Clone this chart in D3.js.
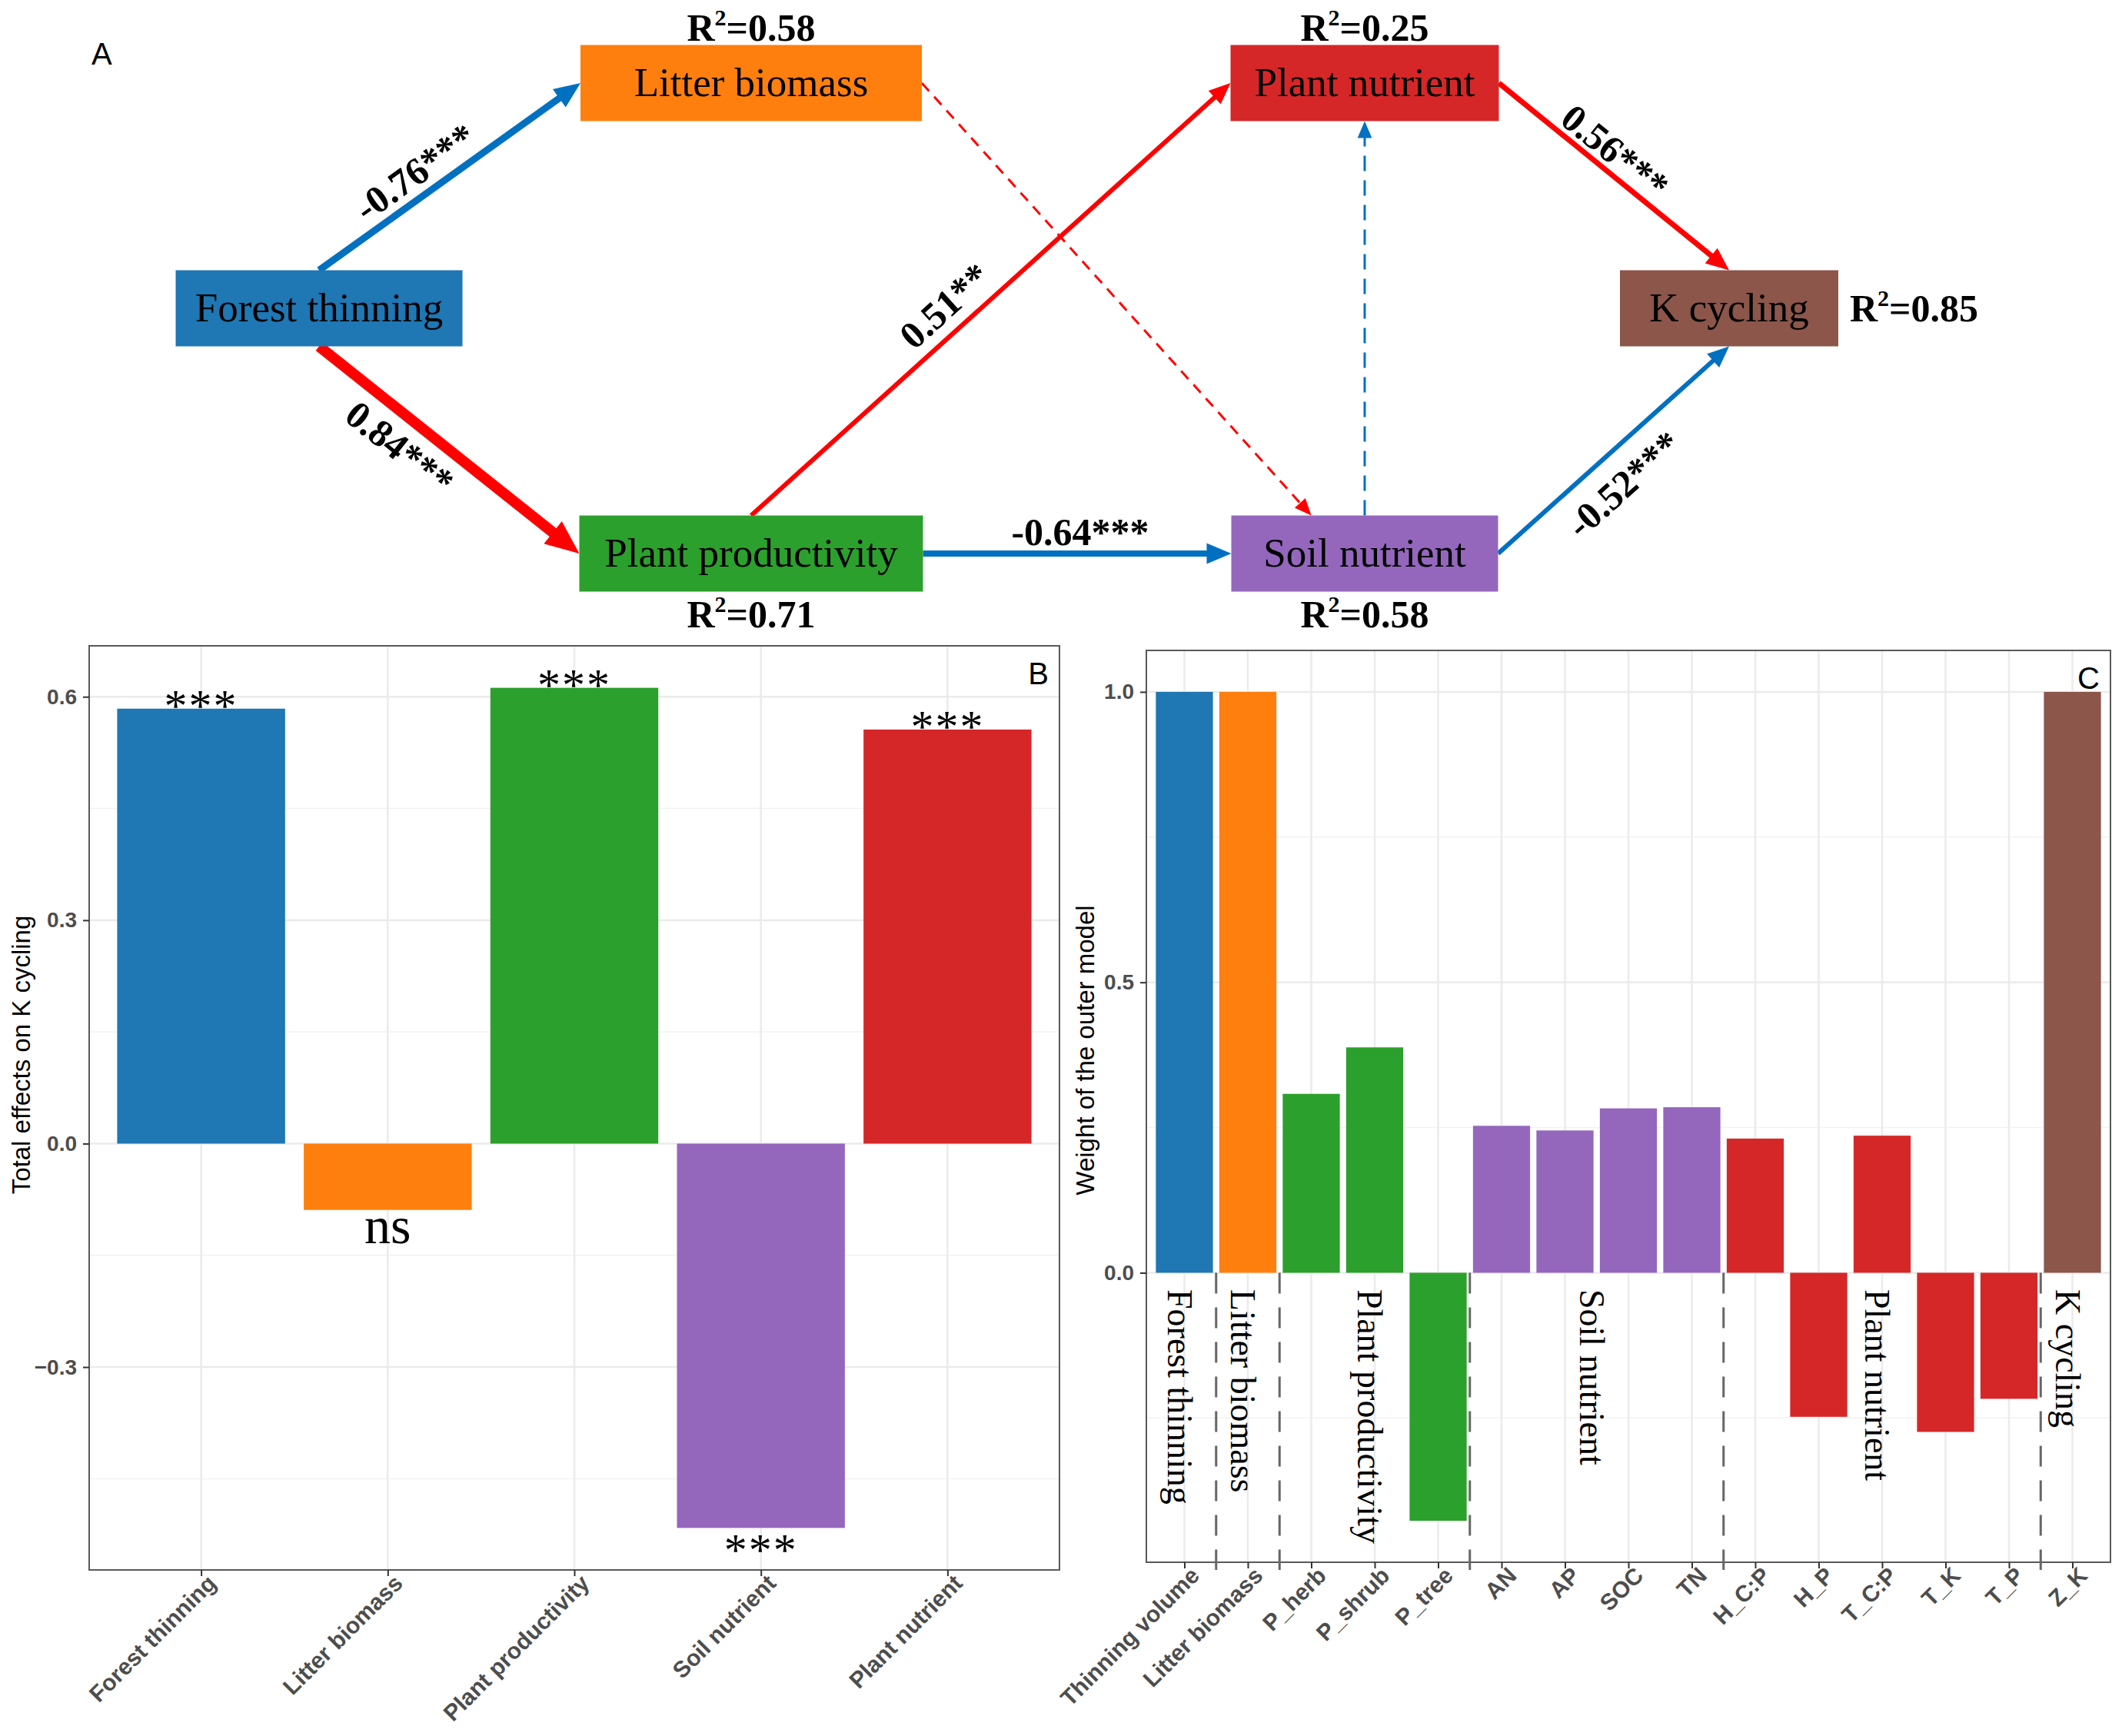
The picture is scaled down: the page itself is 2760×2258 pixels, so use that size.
<!DOCTYPE html>
<html>
<head>
<meta charset="utf-8">
<script src="https://cdn.jsdelivr.net/npm/d3@7"></script>
<style>
  body { margin: 0; background: #fff; }
  text { font-family: "Liberation Sans", Arial, sans-serif; }
  .serif { font-family: "Liberation Serif", "Times New Roman", serif; }
</style>
</head>
<body>
<div id="figure"></div>
<script>
// ---- data (panel A: path model) ----
var nodeNames = ["Forest thinning", "Litter biomass", "Plant productivity", "Plant nutrient", "Soil nutrient", "K cycling"];
var nodeR2 = [null, 0.58, 0.71, 0.25, 0.58, 0.85];
var edgeFrom = [0, 0, 2, 2, 3, 4, 1, 4];
var edgeTo   = [1, 2, 3, 4, 5, 5, 4, 3];
var edgeCoef = [-0.76, 0.84, 0.51, -0.64, 0.56, -0.52, null, null];
var edgeSig  = ["***", "***", "**", "***", "***", "***", "", ""];
var edgeSign = [-1, 1, 1, -1, 1, -1, 1, -1];

// ---- data (panel B: total effects) ----
var effectCats = ["Forest thinning", "Litter biomass", "Plant productivity", "Soil nutrient", "Plant nutrient"];
var effectValues = [0.584, -0.089, 0.612, -0.516, 0.556];
var effectSig = ["***", "ns", "***", "***", "***"];
var effectTicks = [-0.3, 0.0, 0.3, 0.6];

// ---- data (panel C: outer weights) ----
var weightCats = ["Thinning volume", "Litter biomass", "P_herb", "P_shrub", "P_tree", "AN", "AP", "SOC", "TN",
                  "H_C:P", "H_P", "T_C:P", "T_K", "T_P", "Z_K"];
var weightValues = [1.0, 1.0, 0.308, 0.388, -0.427, 0.253, 0.245, 0.283, 0.285, 0.231, -0.248, 0.236, -0.274, -0.217, 1.0];
var weightGroup = ["Forest thinning", "Litter biomass", "Plant productivity", "Plant productivity", "Plant productivity",
                   "Soil nutrient", "Soil nutrient", "Soil nutrient", "Soil nutrient",
                   "Plant nutrient", "Plant nutrient", "Plant nutrient", "Plant nutrient", "Plant nutrient", "K cycling"];
var weightTicks = [0.0, 0.5, 1.0];

// ---- styles ----
var color = d3.scaleOrdinal()
    .domain(["Forest thinning", "Litter biomass", "Plant productivity", "Plant nutrient", "Soil nutrient", "K cycling"])
    .range(["#1f77b4", "#ff7f0e", "#2ca02c", "#d62728", "#9467bd", "#8c564b"]);
var arrowBlue = "#0070c0", arrowRed = "#ff0000";

var svg = d3.select("#figure").append("svg")
    .attr("width", 2760)
    .attr("height", 2258);

// =================== panel A ===================
var nodeCol = [0, 1, 1, 2, 2, 3], nodeRow = [1, 0, 2, 0, 2, 1];
var boxW = [373, 444, 447, 349, 347, 284], boxH = 99;
var colX = d3.scaleOrdinal().domain([0, 1, 2, 3]).range([415, 977, 1775, 2249]);
var rowY = d3.scaleOrdinal().domain([0, 1, 2]).range([108, 401, 720]);

var edgePorts = [["top", "left"], ["bottom", "left"], ["top", "left"], ["right", "left"],
                 ["right", "top"], ["right", "bottom"], ["right", "topLeft"], ["top", "bottom"]];
var edgeWidth = [9, 14, 6, 8, 7, 6, 3, 3];
var edgeDash = [null, null, null, null, null, null, "14,10", "20,12"];
var labelT = [0.42, 0.38, 0.44, 0.51, 0.45, 0.45];
var labelOff = [31, -38, 34, 28, 26, -42];

function port(i, side) {
  var cx = colX(nodeCol[i]), cy = rowY(nodeRow[i]), w = boxW[i];
  if (side == "top") return [cx, cy - boxH / 2];
  if (side == "bottom") return [cx, cy + boxH / 2];
  if (side == "left") return [cx - w / 2, cy];
  if (side == "right") return [cx + w / 2, cy];
  if (side == "topLeft") return [cx - 0.2 * w, cy - boxH / 2];
}

var gA = svg.append("g");

edgeFrom.forEach(function(f, k) {
  var p0 = port(f, edgePorts[k][0]), p1 = port(edgeTo[k], edgePorts[k][1]);
  var dx = p1[0] - p0[0], dy = p1[1] - p0[1], L = Math.sqrt(dx * dx + dy * dy);
  var ux = dx / L, uy = dy / L;
  var headL = 16 + 2 * edgeWidth[k], headW = headL * 0.85;
  var col = edgeSign[k] < 0 ? arrowBlue : arrowRed;
  var bx = p1[0] - ux * headL, by = p1[1] - uy * headL;

  gA.append("line")
    .attr("x1", p0[0]).attr("y1", p0[1])
    .attr("x2", bx + ux * 2).attr("y2", by + uy * 2)
    .attr("stroke", col)
    .attr("stroke-width", edgeWidth[k])
    .attr("stroke-dasharray", edgeDash[k]);

  gA.append("polygon")
    .attr("points", [[p1[0], p1[1]],
                     [bx - uy * headW / 2, by + ux * headW / 2],
                     [bx + uy * headW / 2, by - ux * headW / 2]].map(function(p) { return p.join(","); }).join(" "))
    .attr("fill", col);

  if (edgeCoef[k] != null) {
    var nx = uy, ny = -ux;
    var lx = p0[0] + dx * labelT[k] + nx * labelOff[k];
    var ly = p0[1] + dy * labelT[k] + ny * labelOff[k];
    var ang = Math.atan2(dy, dx) * 180 / Math.PI;
    gA.append("text")
      .attr("class", "serif")
      .attr("transform", "translate(" + lx + "," + ly + ") rotate(" + ang + ")")
      .attr("text-anchor", "middle")
      .attr("dominant-baseline", "central")
      .attr("font-size", 50)
      .attr("font-weight", "bold")
      .text(edgeCoef[k].toFixed(2) + edgeSig[k]);
  }
});

nodeNames.forEach(function(name, i) {
  var cx = colX(nodeCol[i]), cy = rowY(nodeRow[i]);
  gA.append("rect")
    .attr("x", cx - boxW[i] / 2).attr("y", cy - boxH / 2)
    .attr("width", boxW[i]).attr("height", boxH)
    .attr("fill", color(name));
  gA.append("text")
    .attr("class", "serif")
    .attr("x", cx).attr("y", cy + 17)
    .attr("text-anchor", "middle")
    .attr("font-size", 53)
    .text(name);

  if (nodeR2[i] != null) {
    var tx, ty, anchor = "middle";
    if (nodeRow[i] == 0) { tx = cx; ty = cy - boxH / 2 - 6; }
    else if (nodeRow[i] == 2) { tx = cx; ty = cy + boxH / 2 + 46; }
    else { tx = cx + boxW[i] / 2 + 15; ty = cy + 17; anchor = "start"; }
    var r = gA.append("text")
      .attr("class", "serif")
      .attr("x", tx).attr("y", ty)
      .attr("text-anchor", anchor)
      .attr("font-size", 50)
      .attr("font-weight", "bold");
    r.append("tspan").text("R");
    r.append("tspan").attr("font-size", 30).attr("dy", -20).text("2");
    r.append("tspan").attr("dy", 20).text("=" + nodeR2[i].toFixed(2));
  }
});

gA.append("text")
  .attr("x", 119).attr("y", 84)
  .attr("font-size", 40)
  .text("A");

// =================== bar panels ===================
function barPanel(o) {
  var g = svg.append("g");
  var lo = d3.min(o.values), hi = d3.max(o.values), pad = (hi - lo) * 0.05;
  var y = d3.scaleLinear().domain([lo - pad, hi + pad]).range([o.bottom, o.top]);
  var x = d3.scalePoint().domain(o.cats).range([o.left, o.right]).padding(0.6);
  var bw = x.step() * 0.9;

  // minor grid
  var minor = [];
  for (var i = 0; i < o.ticks.length - 1; i++) minor.push((o.ticks[i] + o.ticks[i + 1]) / 2);
  minor.push(o.ticks[0] - (o.ticks[1] - o.ticks[0]) / 2);
  minor = minor.filter(function(v) { return y(v) < o.bottom && y(v) > o.top; });
  g.selectAll(".minor").data(minor).enter().append("line")
    .attr("x1", o.left).attr("x2", o.right)
    .attr("y1", function(d) { return y(d); }).attr("y2", function(d) { return y(d); })
    .attr("stroke", "#f2f2f2").attr("stroke-width", 1.5);
  g.selectAll(".major").data(o.ticks).enter().append("line")
    .attr("x1", o.left).attr("x2", o.right)
    .attr("y1", function(d) { return y(d); }).attr("y2", function(d) { return y(d); })
    .attr("stroke", "#ebebeb").attr("stroke-width", 2.5);
  g.selectAll(".vgrid").data(o.cats).enter().append("line")
    .attr("x1", function(d) { return x(d); }).attr("x2", function(d) { return x(d); })
    .attr("y1", o.top).attr("y2", o.bottom)
    .attr("stroke", "#ebebeb").attr("stroke-width", 2.5);

  // bars
  g.selectAll(".bar").data(o.values).enter().append("rect")
    .attr("x", function(d, i) { return x(o.cats[i]) - bw / 2; })
    .attr("y", function(d) { return y(Math.max(0, d)); })
    .attr("width", bw)
    .attr("height", function(d) { return Math.abs(y(d) - y(0)); })
    .attr("fill", function(d, i) { return color(o.groups[i]); });

  // border
  g.append("rect")
    .attr("x", o.left).attr("y", o.top)
    .attr("width", o.right - o.left).attr("height", o.bottom - o.top)
    .attr("fill", "none").attr("stroke", "#595959").attr("stroke-width", 2);

  // y axis
  var yAxis = d3.axisLeft(y).tickValues(o.ticks).tickSize(8).tickPadding(8)
    .tickFormat(function(d) { return d.toFixed(1).replace("-", "\u2212"); });
  var ya = g.append("g").attr("transform", "translate(" + o.left + ",0)").call(yAxis);
  ya.select(".domain").remove();
  ya.selectAll("line").attr("stroke", "#333").attr("stroke-width", 2);
  ya.selectAll("text").attr("font-size", 28).attr("font-weight", "bold").attr("fill", "#4d4d4d")
    .attr("font-family", "Liberation Sans, Arial, sans-serif");

  // x axis
  var xAxis = d3.axisBottom(x).tickSize(8).tickFormat("");
  var xa = g.append("g").attr("transform", "translate(0," + o.bottom + ")").call(xAxis);
  xa.select(".domain").remove();
  xa.selectAll("line").attr("stroke", "#333").attr("stroke-width", 2);
  g.selectAll(".xlab").data(o.cats).enter().append("text")
    .attr("transform", function(d) { return "translate(" + (x(d) + 6) + "," + (o.bottom + 4) + ") rotate(-45)"; })
    .attr("text-anchor", "end")
    .attr("dy", "0.72em")
    .attr("font-size", 30).attr("font-weight", "bold").attr("fill", "#4d4d4d")
    .text(function(d) { return d; });

  // y title
  g.append("text")
    .attr("transform", "translate(" + o.titleX + "," + o.titleY + ") rotate(-90)")
    .attr("text-anchor", "middle")
    .attr("dominant-baseline", "central")
    .attr("font-size", 33)
    .text(o.yTitle);

  // panel letter
  g.append("text")
    .attr("x", o.right - 14).attr("y", o.top + 50)
    .attr("text-anchor", "end")
    .attr("font-size", 40)
    .text(o.letter);

  return { g: g, x: x, y: y };
}

// ---- panel B ----
var pB = barPanel({
  left: 116, right: 1378, top: 840, bottom: 2042,
  cats: effectCats, values: effectValues, groups: effectCats, ticks: effectTicks,
  yTitle: "Total effects on K cycling", titleX: 27, titleY: 1372, letter: "B"
});
pB.g.selectAll(".sig").data(effectValues).enter().append("text")
  .attr("class", "serif")
  .attr("x", function(d, i) { return pB.x(effectCats[i]); })
  .attr("y", function(d, i) {
    if (effectSig[i] == "ns") return pB.y(d) + 43;
    return d >= 0 ? pB.y(d) + 16 : pB.y(d) + 49;
  })
  .attr("text-anchor", "middle")
  .attr("font-size", function(d, i) { return effectSig[i] == "ns" ? 68 : 60; })
  .attr("letter-spacing", function(d, i) { return effectSig[i] == "ns" ? 0 : 2; })
  .text(function(d, i) { return effectSig[i]; });

// ---- panel C ----
var pC = barPanel({
  left: 1491, right: 2745, top: 846, bottom: 2032,
  cats: weightCats, values: weightValues, groups: weightGroup, ticks: weightTicks,
  yTitle: "Weight of the outer model", titleX: 1411, titleY: 1366, letter: "C"
});

// group separators and group labels
var groupNames = [];
weightGroup.forEach(function(gname) { if (groupNames.indexOf(gname) < 0) groupNames.push(gname); });
var sepX = [];
for (var i = 1; i < weightCats.length; i++) {
  if (weightGroup[i] != weightGroup[i - 1]) sepX.push((pC.x(weightCats[i]) + pC.x(weightCats[i - 1])) / 2);
}
pC.g.selectAll(".sep").data(sepX).enter().append("line")
  .attr("x1", function(d) { return d; }).attr("x2", function(d) { return d; })
  .attr("y1", pC.y(0)).attr("y2", 2042)
  .attr("stroke", "#666").attr("stroke-width", 3)
  .attr("stroke-dasharray", "27,18");

pC.g.selectAll(".glab").data(groupNames).enter().append("text")
  .attr("class", "serif")
  .attr("transform", function(gname) {
    var xs = weightCats.filter(function(c, i) { return weightGroup[i] == gname; }).map(function(c) { return pC.x(c); });
    return "translate(" + (d3.mean(xs) - 22) + "," + 1677 + ") rotate(90)";
  })
  .attr("text-anchor", "start")
  .attr("font-size", 46)
  .text(function(d) { return d; });
</script>
</body>
</html>
